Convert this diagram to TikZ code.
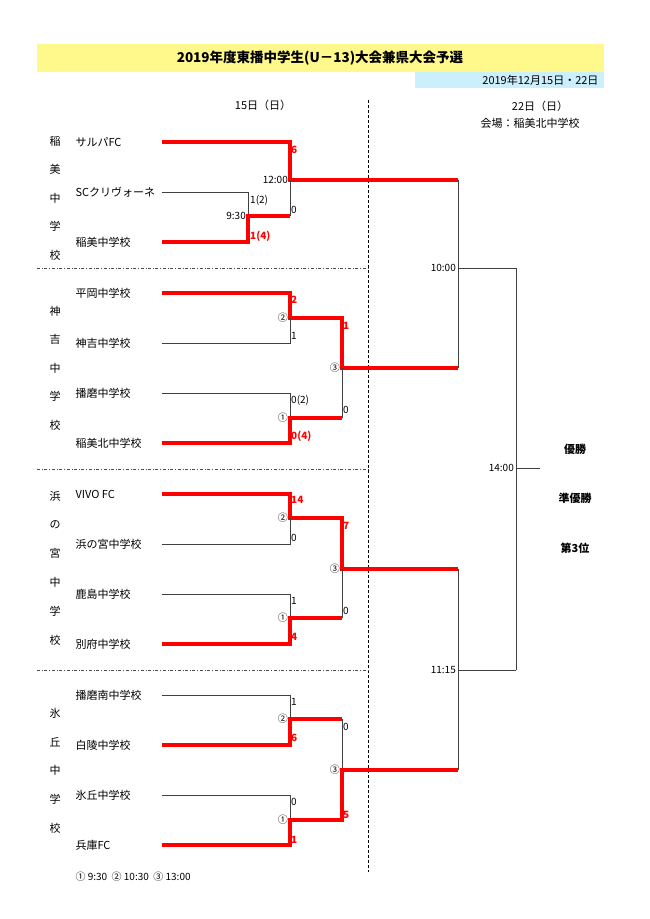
\documentclass[tikz,border=0pt]{standalone}
\usepackage{fontspec}
\setmainfont{Noto Sans CJK JP}
\begin{document}
\begin{tikzpicture}[x=1pt,y=-1pt,
    win/.style={draw=red,line width=3.4pt},
    lose/.style={draw=black!75,line width=0.6pt},
    team/.style={anchor=west,font=\fontsize{11}{13}\selectfont},
    score/.style={anchor=west,inner sep=1pt,font=\fontsize{10}{12}\selectfont},
    rscore/.style={score,text=red,font=\bfseries\fontsize{10}{12}\selectfont},
    tm/.style={anchor=east,inner sep=1pt,font=\fontsize{10}{12}\selectfont},
    vlab/.style={font=\fontsize{11}{13}\selectfont},
    rank/.style={font=\bfseries\fontsize{11}{13}\selectfont}]
    \useasboundingbox (0,0) rectangle (650,919);
    % header
    \fill[yellow!45] (37,44) rectangle (604,72);
    \fill[cyan!20] (415,72) rectangle (604,88);
    \node (title) at (320,58) {\bfseries\fontsize{13.5}{15}\selectfont 2019年度東播中学生(U－13)大会兼県大会予選};
    \node[anchor=east,font=\fontsize{11}{13}\selectfont] (date) at (602,80) {2019年12月15日・22日};
    \node[vlab] (day1) at (263,105) {15日（日）};
    \node[vlab] (day2) at (540,106) {22日（日）};
    \node[vlab] (venue) at (530,123) {会場：稲美北中学校};
    \draw[densely dashed,line width=0.5pt] (368,100) -- (368,872);
    \foreach \y in {268,469,670}
        \draw[dash dot,line width=0.5pt,black!70] (37,\y) -- (368,\y);
    % group labels
    \foreach \c [count=\i from 0] in {稲,美,中,学,校}
        \node[vlab] at (55,141+28.5*\i) {\c};
    \foreach \c [count=\i from 0] in {神,吉,中,学,校}
        \node[vlab] at (55,311+28.5*\i) {\c};
    \foreach \c [count=\i from 0] in {浜,の,宮,中,学,校}
        \node[vlab] at (55,496+28.8*\i) {\c};
    \foreach \c [count=\i from 0] in {氷,丘,中,学,校}
        \node[vlab] at (55,713+28.8*\i) {\c};
    % teams
    \node[team] (sarupa) at (72,142) {サルパFC};
    \node[team] (scc) at (72,192) {SCクリヴォーネ};
    \node[team] (inami) at (72,242) {稲美中学校};
    \node[team] (hiraoka) at (72,293) {平岡中学校};
    \node[team] (kanki) at (72,343) {神吉中学校};
    \node[team] (harima) at (72,393) {播磨中学校};
    \node[team] (inamikita) at (72,443) {稲美北中学校};
    \node[team] (vivo) at (72,494) {VIVO FC};
    \node[team] (hamanomiya) at (72,544) {浜の宮中学校};
    \node[team] (kashima) at (72,594) {鹿島中学校};
    \node[team] (beppu) at (72,644) {別府中学校};
    \node[team] (harimaminami) at (72,695) {播磨南中学校};
    \node[team] (hakuryo) at (72,745) {白陵中学校};
    \node[team] (hikaoka) at (72,795) {氷丘中学校};
    \node[team] (hyogo) at (72,845) {兵庫FC};
    % group 1
    \draw[win] (162,142) -- (290,142) -- (290,180) -- (458,180);
    \draw[lose] (162,192) -- (248,192) -- (248,216);
    \draw[win] (162,242) -- (248,242) -- (248,216) -- (290,216);
    \draw[lose] (290,216) -- (290,180);
    \node[rscore] at (290,150) {6};
    \node[tm] at (289,180) {12:00};
    \node[score] at (249,200) {1(2)};
    \node[score] at (290,210) {0};
    \node[tm] at (247,216) {9:30};
    \node[rscore] at (249,236) {1(4)};
    % group 2
    \draw[win] (162,293) -- (290,293) -- (290,318) -- (342,318) -- (342,368) -- (458,368);
    \draw[lose] (162,343) -- (290,343) -- (290,318);
    \draw[lose] (162,393) -- (290,393) -- (290,418);
    \draw[win] (162,443) -- (290,443) -- (290,418) -- (342,418);
    \draw[lose] (342,418) -- (342,368);
    \node[tm] at (289,318) {②};
    \node[tm] at (341,368) {③};
    \node[tm] at (289,418) {①};
    \node[rscore] at (290,300) {2};
    \node[score] at (290,336) {1};
    \node[rscore] at (342,326) {1};
    \node[score] at (290,400) {0(2)};
    \node[score] at (342,410) {0};
    \node[rscore] at (290,436) {0(4)};
    % group 3
    \draw[win] (162,494) -- (290,494) -- (290,518) -- (342,518) -- (342,569) -- (458,569);
    \draw[lose] (162,544) -- (290,544) -- (290,518);
    \draw[lose] (162,594) -- (290,594) -- (290,618);
    \draw[win] (162,644) -- (290,644) -- (290,618) -- (342,618);
    \draw[lose] (342,618) -- (342,569);
    \node[tm] at (289,518) {②};
    \node[tm] at (341,569) {③};
    \node[tm] at (289,618) {①};
    \node[rscore] at (290,500) {14};
    \node[score] at (290,538) {0};
    \node[rscore] at (342,526) {7};
    \node[score] at (290,601) {1};
    \node[score] at (342,611) {0};
    \node[rscore] at (290,637) {4};
    % group 4
    \draw[lose] (162,695) -- (290,695) -- (290,719);
    \draw[win] (162,745) -- (290,745) -- (290,719) -- (342,719);
    \draw[lose] (342,719) -- (342,770);
    \draw[lose] (162,795) -- (290,795) -- (290,820);
    \draw[win] (162,845) -- (290,845) -- (290,820) -- (342,820) -- (342,770) -- (458,770);
    \node[tm] at (289,719) {②};
    \node[tm] at (341,770) {③};
    \node[tm] at (289,820) {①};
    \node[score] at (290,702) {1};
    \node[rscore] at (290,738) {6};
    \node[score] at (342,727) {0};
    \node[score] at (290,802) {0};
    \node[rscore] at (290,840) {1};
    \node[rscore] at (342,815) {5};
    % final day
    \draw[lose] (458,180) -- (458,368);
    \draw[lose] (458,268) -- (516,268);
    \draw[lose] (458,569) -- (458,770);
    \draw[lose] (458,670) -- (516,670);
    \draw[lose] (516,268) -- (516,670);
    \draw[lose] (516,468) -- (540,468);
    \node[tm] at (457,268) {10:00};
    \node[tm] at (457,670) {11:15};
    \node[tm] at (515,468) {14:00};
    \node[rank] (champ) at (575,449) {優勝};
    \node[rank] (second) at (575,498) {準優勝};
    \node[rank] (third) at (575,548) {第3位};
    \node[anchor=west,font=\fontsize{10}{12}\selectfont] (key) at (72,877) {① 9:30\ \ ② 10:30\ \ ③ 13:00};
\end{tikzpicture}
\end{document}
